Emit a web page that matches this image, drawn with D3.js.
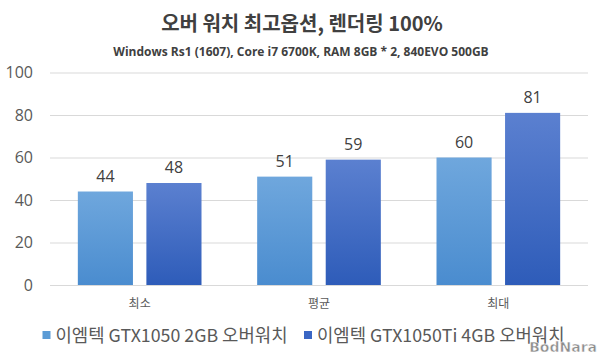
<!DOCTYPE html>
<html>
<head>
<meta charset="utf-8">
<script src="https://cdn.jsdelivr.net/npm/d3@7"></script>
<style>
  body { margin: 0; background: #fff; }
  svg { display: block; }
  .grid line { stroke: #d9d9d9; }
  .grid text { fill: #595959; font-size: 16px; font-family: "Open Sans", sans-serif; }
  .cat text { fill: #595959; font-size: 12px; font-family: "Noto Sans CJK KR", sans-serif; }
</style>
</head>
<body>
<div id="chart"></div>
<script>
// chart data
var categories = ["최소", "평균", "최대"]
var seriesNames = ["이엠텍 GTX1050 2GB 오버워치", "이엠텍 GTX1050Ti 4GB 오버워치"]
var gtx1050 = [44, 51, 60]
var gtx1050ti = [48, 59, 81]
var yTicks = [0, 20, 40, 60, 80, 100]

var W = 600, H = 354
var margin = {top: 72.5, left: 50, right: 12, bottom: 69}
var width = W - margin.left - margin.right
var height = H - margin.top - margin.bottom

var svg = d3.select("#chart").append("svg")
  .attr("width", W)
  .attr("height", H)

//gradients for the two series
var defs = svg.append("defs")
var grads = [["#6fa7dd", "#4a8ccf"], ["#5b80d0", "#2e5cb9"]]
grads.forEach(function(c, i) {
  var g = defs.append("linearGradient").attr("id", "grad" + i)
    .attr("x1", 0).attr("y1", 0).attr("x2", 0).attr("y2", 1)
  g.append("stop").attr("offset", "0%").attr("stop-color", c[0])
  g.append("stop").attr("offset", "100%").attr("stop-color", c[1])
})
var legendColors = ["#5b9bd5", "#3a66c4"]

//title
svg.append("text")
  .attr("x", 302).attr("y", 31)
  .attr("text-anchor", "middle")
  .style("font-family", "'Noto Sans CJK KR', sans-serif")
  .style("font-weight", "bold")
  .style("font-size", "20px")
  .style("fill", "#404040")
  .text("오버 워치 최고옵션, 렌더링 100%")

svg.append("text")
  .attr("x", 301).attr("y", 56)
  .attr("text-anchor", "middle")
  .style("font-family", "'Open Sans', sans-serif")
  .style("font-weight", "bold")
  .style("font-size", "12px")
  .style("fill", "#404040")
  .text("Windows Rs1 (1607), Core i7 6700K, RAM 8GB * 2, 840EVO 500GB")

var g = svg.append("g")
  .attr("transform", "translate(" + margin.left + "," + margin.top + ")")

//scales
var x0 = d3.scaleBand().domain(categories).range([0, width])
var x1 = d3.scaleBand().domain([0, 1]).range([0, x0.bandwidth()])
  .paddingInner(0.196).paddingOuter(0.406)
var y = d3.scaleLinear().domain([0, 100]).range([height, 0])

//grid lines + y labels
g.append("g")
  .attr("class", "grid")
  .call(d3.axisLeft(y).tickValues(yTicks).tickSize(-width).tickPadding(17))
  .call(function(a) { a.select(".domain").remove() })

g.append("g")
  .attr("class", "cat")
  .attr("transform", "translate(0," + height + ")")
  .call(d3.axisBottom(x0).tickSize(0).tickPadding(14))
  .call(function(a) { a.select(".domain").remove() })

//bars
var rows = categories.map(function(c, i) {
  return {cat: c, vals: [gtx1050[i], gtx1050ti[i]]}
})

var groups = g.selectAll(".grp").data(rows).enter().append("g")
  .attr("transform", function(d) { return "translate(" + x0(d.cat) + ",0)" })

groups.selectAll("rect").data(function(d) { return d.vals }).enter().append("rect")
  .attr("x", function(d, i) { return x1(i) })
  .attr("y", function(d) { return y(d) })
  .attr("width", x1.bandwidth())
  .attr("height", function(d) { return height - y(d) })
  .attr("fill", function(d, i) { return "url(#grad" + i + ")" })

groups.selectAll(".val").data(function(d) { return d.vals }).enter().append("text")
  .attr("x", function(d, i) { return x1(i) + x1.bandwidth() / 2 })
  .attr("y", function(d) { return y(d) - 10 })
  .attr("text-anchor", "middle")
  .style("font-family", "'Open Sans', sans-serif")
  .style("font-size", "16px")
  .style("fill", "#404040")
  .text(function(d) { return d })

//legend
var legendX = [42.5, 304]
seriesNames.forEach(function(name, i) {
  svg.append("rect")
    .attr("x", legendX[i]).attr("y", 331)
    .attr("width", 8).attr("height", 8)
    .attr("fill", legendColors[i])
  svg.append("text")
    .attr("x", legendX[i] + 13).attr("y", 342)
    .style("font-family", "'Noto Sans CJK KR', sans-serif")
    .style("font-size", "17.8px")
    .style("fill", "#595959")
    .text(name)
})

//watermark
svg.append("text")
  .attr("x", 597).attr("y", 352)
  .attr("text-anchor", "end")
  .style("font-family", "'DejaVu Sans', sans-serif")
  .style("font-weight", "bold")
  .style("font-size", "14px")
  .style("fill", "#8c8c8c")
  .style("stroke", "#fff")
  .style("stroke-width", 0.5)
  .text("BodNara")
</script>
</body>
</html>
